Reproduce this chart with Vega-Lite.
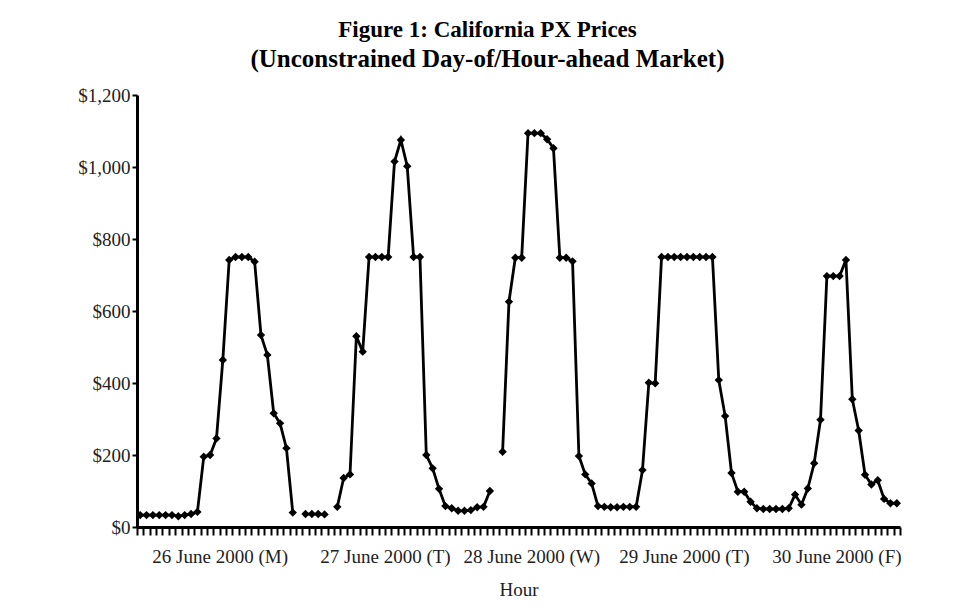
{
  "$schema": "https://vega.github.io/schema/vega-lite/v6.json",
  "width": 763,
  "height": 432,
  "autosize": {"type": "none"},
  "padding": {"left": 137, "top": 95, "right": 60, "bottom": 85},
  "background": "white",
  "title": {
    "text": "Figure 1: California PX Prices",
    "subtitle": "(Unconstrained Day-of/Hour-ahead Market)",
    "font": "Liberation Serif",
    "fontSize": 23,
    "fontWeight": "bold",
    "color": "#000000",
    "subtitleFont": "Liberation Serif",
    "subtitleFontSize": 25,
    "subtitleFontWeight": "bold",
    "subtitleColor": "#000000",
    "subtitlePadding": 5,
    "anchor": "middle",
    "frame": "group",
    "dx": -31,
    "offset": 14
  },
  "data": {
    "values": [
      {"hour": 1, "price": 33}, {"hour": 2, "price": 33}, {"hour": 3, "price": 33}, {"hour": 4, "price": 33},
      {"hour": 5, "price": 33}, {"hour": 6, "price": 33}, {"hour": 7, "price": 30}, {"hour": 8, "price": 33},
      {"hour": 9, "price": 36}, {"hour": 10, "price": 42}, {"hour": 11, "price": 195}, {"hour": 12, "price": 200},
      {"hour": 13, "price": 246}, {"hour": 14, "price": 464}, {"hour": 15, "price": 742}, {"hour": 16, "price": 750},
      {"hour": 17, "price": 750}, {"hour": 18, "price": 750}, {"hour": 19, "price": 737}, {"hour": 20, "price": 533},
      {"hour": 21, "price": 478}, {"hour": 22, "price": 316}, {"hour": 23, "price": 288}, {"hour": 24, "price": 219},
      {"hour": 25, "price": 40}, {"hour": 26, "price": null}, {"hour": 27, "price": 36}, {"hour": 28, "price": 36},
      {"hour": 29, "price": 36}, {"hour": 30, "price": 35}, {"hour": 31, "price": null}, {"hour": 32, "price": 56},
      {"hour": 33, "price": 136}, {"hour": 34, "price": 146}, {"hour": 35, "price": 530}, {"hour": 36, "price": 487},
      {"hour": 37, "price": 750}, {"hour": 38, "price": 750}, {"hour": 39, "price": 750}, {"hour": 40, "price": 750},
      {"hour": 41, "price": 1015}, {"hour": 42, "price": 1075}, {"hour": 43, "price": 1002}, {"hour": 44, "price": 750},
      {"hour": 45, "price": 750}, {"hour": 46, "price": 200}, {"hour": 47, "price": 163}, {"hour": 48, "price": 106},
      {"hour": 49, "price": 58}, {"hour": 50, "price": 52}, {"hour": 51, "price": 45}, {"hour": 52, "price": 45},
      {"hour": 53, "price": 47}, {"hour": 54, "price": 55}, {"hour": 55, "price": 56}, {"hour": 56, "price": 100},
      {"hour": 57, "price": null}, {"hour": 58, "price": 209}, {"hour": 59, "price": 626}, {"hour": 60, "price": 748},
      {"hour": 61, "price": 748}, {"hour": 62, "price": 1094}, {"hour": 63, "price": 1094}, {"hour": 64, "price": 1094},
      {"hour": 65, "price": 1077}, {"hour": 66, "price": 1052}, {"hour": 67, "price": 748}, {"hour": 68, "price": 748},
      {"hour": 69, "price": 738}, {"hour": 70, "price": 197}, {"hour": 71, "price": 146}, {"hour": 72, "price": 121},
      {"hour": 73, "price": 58}, {"hour": 74, "price": 56}, {"hour": 75, "price": 55}, {"hour": 76, "price": 55},
      {"hour": 77, "price": 56}, {"hour": 78, "price": 56}, {"hour": 79, "price": 56}, {"hour": 80, "price": 158},
      {"hour": 81, "price": 401}, {"hour": 82, "price": 399}, {"hour": 83, "price": 750}, {"hour": 84, "price": 750},
      {"hour": 85, "price": 750}, {"hour": 86, "price": 750}, {"hour": 87, "price": 750}, {"hour": 88, "price": 750},
      {"hour": 89, "price": 750}, {"hour": 90, "price": 750}, {"hour": 91, "price": 750}, {"hour": 92, "price": 408},
      {"hour": 93, "price": 308}, {"hour": 94, "price": 150}, {"hour": 95, "price": 98}, {"hour": 96, "price": 98},
      {"hour": 97, "price": 70}, {"hour": 98, "price": 52}, {"hour": 99, "price": 50}, {"hour": 100, "price": 50},
      {"hour": 101, "price": 50}, {"hour": 102, "price": 50}, {"hour": 103, "price": 52}, {"hour": 104, "price": 90},
      {"hour": 105, "price": 62}, {"hour": 106, "price": 107}, {"hour": 107, "price": 177}, {"hour": 108, "price": 298},
      {"hour": 109, "price": 697}, {"hour": 110, "price": 697}, {"hour": 111, "price": 697}, {"hour": 112, "price": 742},
      {"hour": 113, "price": 355}, {"hour": 114, "price": 268}, {"hour": 115, "price": 145}, {"hour": 116, "price": 118},
      {"hour": 117, "price": 130}, {"hour": 118, "price": 78}, {"hour": 119, "price": 66}, {"hour": 120, "price": 66}
    ]
  },
  "encoding": {
    "x": {
      "field": "hour",
      "type": "quantitative",
      "scale": {"domain": [0.5, 120.5], "nice": false, "zero": false},
      "axis": {
        "title": "Hour",
        "titleFont": "Liberation Serif",
        "titleFontSize": 19,
        "titleFontWeight": "normal",
        "titleColor": "#222222",
        "titlePadding": 14,
        "values": [0.5,1.5,2.5,3.5,4.5,5.5,6.5,7.5,8.5,9.5,10.5,11.5,12.5,13.5,14.5,15.5,16.5,17.5,18.5,19.5,20.5,21.5,22.5,23.5,24.5,25.5,26.5,27.5,28.5,29.5,30.5,31.5,32.5,33.5,34.5,35.5,36.5,37.5,38.5,39.5,40.5,41.5,42.5,43.5,44.5,45.5,46.5,47.5,48.5,49.5,50.5,51.5,52.5,53.5,54.5,55.5,56.5,57.5,58.5,59.5,60.5,61.5,62.5,63.5,64.5,65.5,66.5,67.5,68.5,69.5,70.5,71.5,72.5,73.5,74.5,75.5,76.5,77.5,78.5,79.5,80.5,81.5,82.5,83.5,84.5,85.5,86.5,87.5,88.5,89.5,90.5,91.5,92.5,93.5,94.5,95.5,96.5,97.5,98.5,99.5,100.5,101.5,102.5,103.5,104.5,105.5,106.5,107.5,108.5,109.5,110.5,111.5,112.5,113.5,114.5,115.5,116.5,117.5,118.5,119.5,120.5],
        "labelExpr": "datum.value == 13.5 ? '26 June 2000 (M)' : datum.value == 39.5 ? '27 June 2000 (T)' : datum.value == 62.5 ? '28 June 2000 (W)' : datum.value == 86.5 ? '29 June 2000 (T)' : datum.value == 110.5 ? '30 June 2000 (F)' : ''",
        "labelOverlap": false,
        "labelBound": false,
        "labelFlush": false,
        "labelFont": "Liberation Serif",
        "labelFontSize": 19,
        "labelColor": "#222222",
        "labelPadding": 12,
        "grid": false,
        "domainColor": "#000000",
        "domainWidth": 3,
        "tickColor": "#000000",
        "tickWidth": 2,
        "tickSize": 8
      }
    },
    "y": {
      "field": "price",
      "type": "quantitative",
      "scale": {"domain": [0, 1200], "nice": false},
      "axis": {
        "title": null,
        "values": [0, 200, 400, 600, 800, 1000, 1200],
        "format": "$,.0f",
        "labelFont": "Liberation Serif",
        "labelFontSize": 19,
        "labelColor": "#222222",
        "labelPadding": 2,
        "grid": false,
        "domainColor": "#000000",
        "domainWidth": 3,
        "tickColor": "#000000",
        "tickWidth": 2,
        "tickSize": 5
      }
    }
  },
  "layer": [
    {
      "mark": {"type": "line", "color": "#000000", "strokeWidth": 2.8, "invalid": "break-paths-filter-domains"}
    },
    {
      "mark": {"type": "point", "shape": "diamond", "filled": true, "color": "#000000", "size": 70, "opacity": 1}
    }
  ],
  "config": {
    "view": {"stroke": null}
  }
}
